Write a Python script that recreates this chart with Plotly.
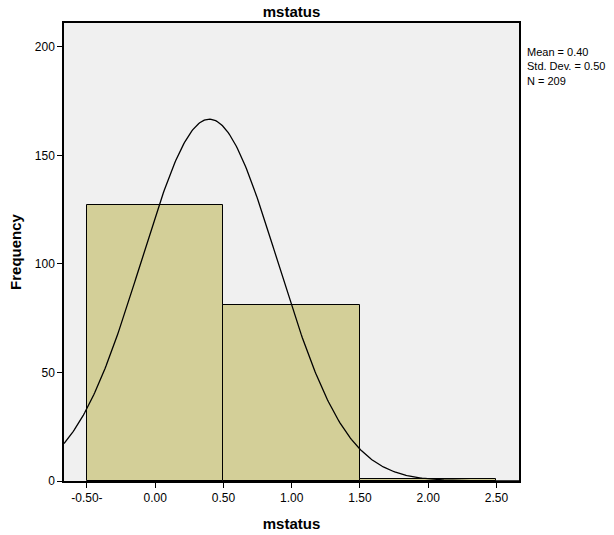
import numpy as np
import plotly.graph_objects as go

# Data
bin_centers = [0.0, 1.0, 2.0]
frequencies = [127, 81, 1]
bin_width = 1.0
mean_val = 83 / 209
sd_val = 0.5002
n_val = 209

x_tickvals = [-0.5, 0.0, 0.5, 1.0, 1.5, 2.0, 2.5]
x_ticktext = ["-0.50-", "0.00", "0.50", "1.00", "1.50", "2.00", "2.50"]
y_tickvals = [0, 50, 100, 150, 200]

x_range = [-0.668, 2.665]
y_range = [0, 211]

# Normal curve implied by the stats in the legend
xc = np.linspace(x_range[0], x_range[1], 400)
yc = n_val * bin_width / (sd_val * np.sqrt(2 * np.pi)) * np.exp(-0.5 * ((xc - mean_val) / sd_val) ** 2)

fig = go.Figure()
fig.add_trace(go.Bar(
    x=bin_centers, y=frequencies, width=bin_width,
    marker=dict(color="#D3CF98", line=dict(color="black", width=1)),
    showlegend=False, hoverinfo="x+y",
))
fig.add_trace(go.Scatter(
    x=xc, y=yc, mode="lines", line=dict(color="black", width=1.3),
    showlegend=False, hoverinfo="skip",
))

fig.update_layout(
    width=614, height=535,
    margin=dict(l=64, r=95, t=23, b=54, autoexpand=False),
    paper_bgcolor="white", plot_bgcolor="#F0F0F0",
    font=dict(family="Liberation Sans, Arial, sans-serif", color="black", size=12),
    title=dict(text="<b>mstatus</b>", x=0.5, xanchor="center", xref="paper",
               y=0.978, yref="container", yanchor="middle",
               font=dict(size=15)),
    bargap=0,
)
fig.update_xaxes(
    range=x_range, tickvals=x_tickvals, ticktext=x_ticktext, automargin=False,
    showgrid=False, zeroline=False, showline=True, linecolor="black", linewidth=1.5,
    mirror=True, ticks="outside", ticklen=5, tickcolor="black", tickwidth=1,
    tickfont=dict(size=12),
    title=dict(text="<b>mstatus</b>", font=dict(size=15), standoff=14),
)
fig.update_yaxes(
    range=y_range, tickvals=y_tickvals, automargin=False,
    showgrid=False, zeroline=False, showline=True, linecolor="black", linewidth=1.5,
    mirror=True, ticks="outside", ticklen=5, tickcolor="black", tickwidth=1,
    tickfont=dict(size=12),
    title=dict(text="<b>Frequency</b>", font=dict(size=15), standoff=10),
)
fig.add_annotation(
    xref="paper", yref="paper", x=1.014, y=0.955, xanchor="left", yanchor="top",
    align="left", showarrow=False,
    text=f"Mean = {mean_val:.2f}<br>Std. Dev. = {sd_val:.2f}<br>N = {n_val}",
    font=dict(size=11),
)
fig.write_html(
    "out.html",
    config={"displayModeBar": False},
    post_script="document.body.style.margin='0';document.body.style.overflow='hidden';",
)
